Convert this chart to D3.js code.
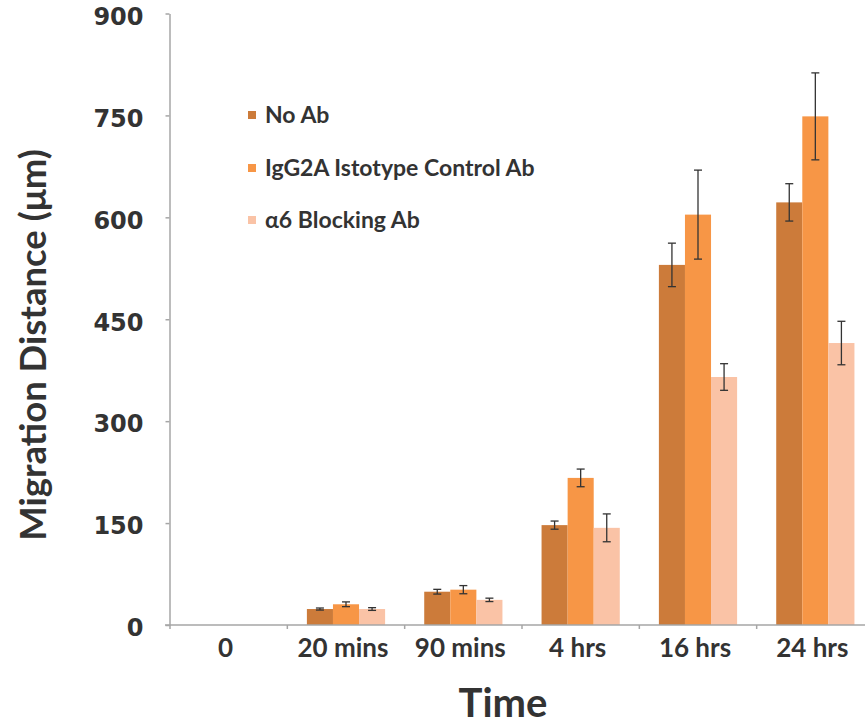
<!DOCTYPE html>
<html>
<head>
<meta charset="utf-8">
<script src="https://cdn.jsdelivr.net/npm/d3@7"></script>
<style>
  body { margin: 0; background: #fff; }
  svg text { fill: #333; }
</style>
</head>
<body>
<div id="chart"></div>
<script>
const width = 865;
const height = 727;

const categories = ["0", "20 mins", "90 mins", "4 hrs", "16 hrs", "24 hrs"];
const series = ["No Ab", "IgG2A Istotype Control Ab", "\u03b16 Blocking Ab"];
const colors = ["#cc7b3a", "#f79646", "#fac3a6"];

const noAb = [0, 23.5, 49, 147, 530, 622];
const noAbErr = [0, 1.5, 3.5, 6, 32, 27.5];
const igg = [0, 30.5, 52, 216.5, 604, 748.6];
const iggErr = [0, 3.5, 6, 13, 65.5, 64];
const a6 = [0, 23.5, 37, 143, 365, 415];
const a6Err = [0, 2, 2.5, 20.5, 19.6, 32];

const yTicks = [0, 150, 300, 450, 600, 750, 900];

const values = [noAb, igg, a6];
const errors = [noAbErr, iggErr, a6Err];

const svg = d3.select("#chart")
    .append("svg")
    .attr("width", width)
    .attr("height", height);

const x = d3.scaleBand()
    .domain(categories)
    .range([170, 874])
    .paddingInner(0)
    .paddingOuter(0);

const xs = d3.scaleBand()
    .domain(series)
    .range([0, x.bandwidth()])
    .paddingInner(0)
    .paddingOuter(0.75);

const y = d3.scaleLinear()
    .domain([0, 900])
    .range([625, 13.5]);

// bars
const rows = [];
categories.forEach(function (c, i) {
    series.forEach(function (s, j) {
        rows.push({ cat: c, ser: s, k: j, v: values[j][i], e: errors[j][i] });
    });
});

const groups = svg.append("g");
groups.selectAll("rect")
    .data(rows.filter(d => d.v > 0))
    .enter().append("rect")
    .attr("x", d => x(d.cat) + xs(d.ser))
    .attr("y", d => y(d.v))
    .attr("width", xs.bandwidth())
    .attr("height", d => y(0) - y(d.v))
    .attr("fill", d => colors[d.k]);

// error bars
const eb = svg.append("g")
    .attr("stroke", "#333")
    .attr("stroke-width", 1.3);
rows.filter(d => d.e > 0).forEach(function (d) {
    const cx = x(d.cat) + xs(d.ser) + xs.bandwidth() / 2;
    eb.append("line")
        .attr("x1", cx).attr("x2", cx)
        .attr("y1", y(d.v + d.e)).attr("y2", y(d.v - d.e));
    [d.v + d.e, d.v - d.e].forEach(function (v) {
        eb.append("line")
            .attr("x1", cx - 4).attr("x2", cx + 4)
            .attr("y1", y(v)).attr("y2", y(v));
    });
});

// y axis
const yAxis = d3.axisLeft(y)
    .tickValues(yTicks)
    .tickSize(4)
    .tickPadding(22)
    .tickSizeOuter(0);

const gy = svg.append("g")
    .attr("transform", "translate(169.5,0)")
    .call(yAxis);
gy.select(".domain").attr("stroke", "#a6a6a6").attr("stroke-width", 1.5);
gy.selectAll(".tick line").attr("stroke", "#a6a6a6").attr("stroke-width", 1.5);
gy.selectAll(".tick text")
    .attr("font-family", "DejaVu Sans")
    .attr("font-weight", "bold")
    .attr("font-size", 24)
    .attr("dy", "0.45em")
    .attr("fill", "#333");

// x axis
const gx = svg.append("g")
    .attr("transform", "translate(0,625)");
gx.append("line")
    .attr("x1", 165).attr("x2", width)
    .attr("y1", 0).attr("y2", 0)
    .attr("stroke", "#a6a6a6").attr("stroke-width", 1.5);
gx.selectAll(".xtick")
    .data(categories)
    .enter().append("line")
    .attr("x1", d => x(d)).attr("x2", d => x(d))
    .attr("y1", 0).attr("y2", 4)
    .attr("stroke", "#a6a6a6").attr("stroke-width", 1.5);
gx.selectAll(".xlabel")
    .data(categories)
    .enter().append("text")
    .attr("x", d => x(d) + x.bandwidth() / 2 - 3)
    .attr("y", 32)
    .attr("text-anchor", "middle")
    .attr("font-family", "Lato")
    .attr("font-weight", "bold")
    .attr("font-size", 26)
    .text(d => d);

// axis titles
svg.append("text")
    .attr("x", 503)
    .attr("y", 717)
    .attr("text-anchor", "middle")
    .attr("font-family", "Lato")
    .attr("font-weight", "bold")
    .attr("font-size", 40)
    .text("Time");

svg.append("text")
    .attr("transform", "translate(46,345) rotate(-90)")
    .attr("text-anchor", "middle")
    .attr("font-family", "Lato")
    .attr("font-weight", "bold")
    .attr("font-size", 36.5)
    .text("Migration Distance (\u03bcm)");

// legend
const legend = svg.append("g")
    .attr("transform", "translate(248,0)");
const legendY = [115, 168, 220];
series.forEach(function (s, i) {
    legend.append("rect")
        .attr("x", 0)
        .attr("y", legendY[i] - 4)
        .attr("width", 8)
        .attr("height", 8)
        .attr("fill", colors[i]);
    legend.append("text")
        .attr("x", 17)
        .attr("y", legendY[i] + 8)
        .attr("font-family", "Lato")
        .attr("font-weight", "bold")
        .attr("font-size", 23)
        .text(s);
});
</script>
</body>
</html>
